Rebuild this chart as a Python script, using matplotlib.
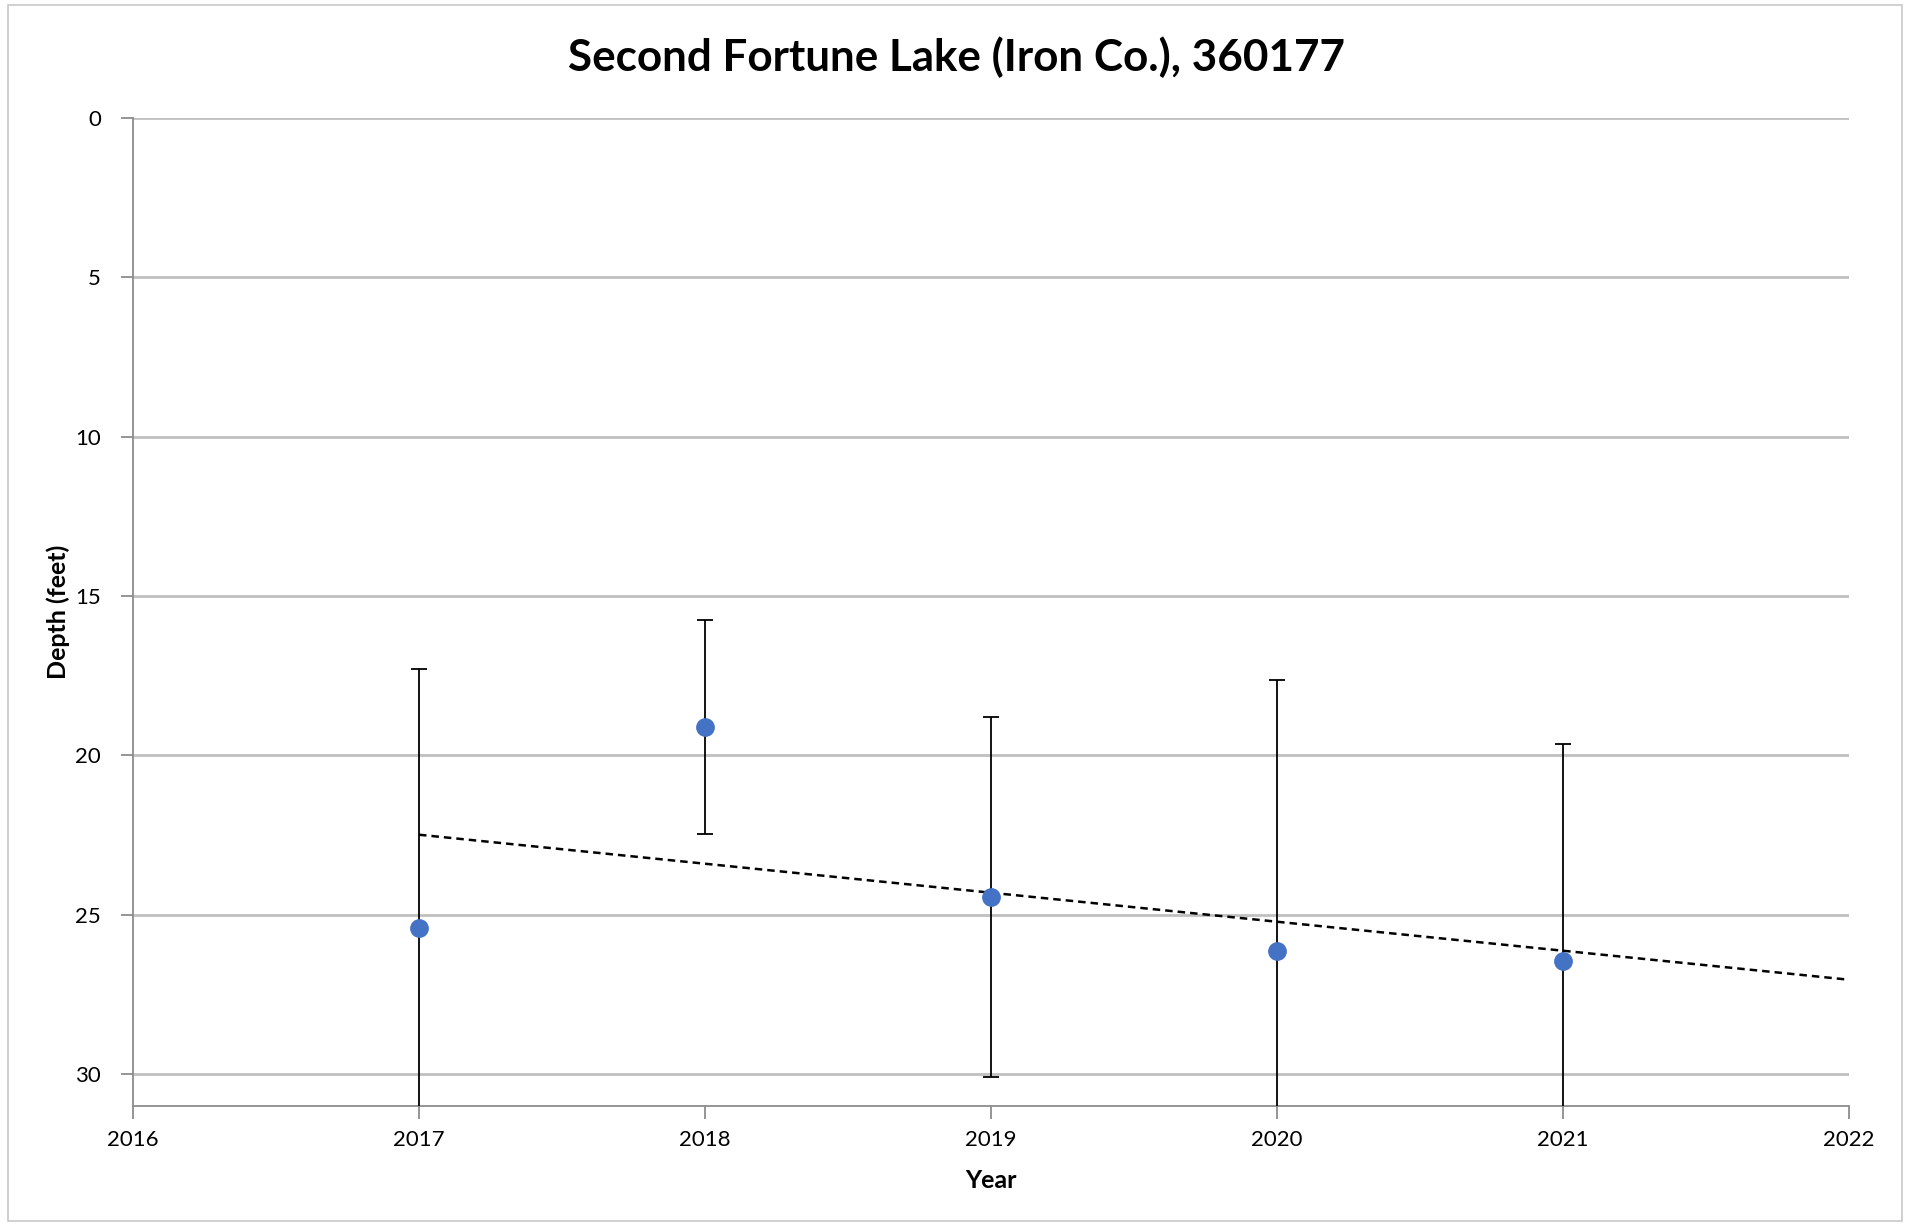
"""Secchi depth by year with std-dev error bars and linear trend."""
import matplotlib
matplotlib.use("Agg")
import matplotlib.pyplot as plt
from matplotlib.patches import Rectangle
import numpy as np

years = [2017, 2018, 2019, 2020, 2021]
depth = [25.41, 19.10, 24.45, 26.14, 26.44]
depth_err = [8.11, 3.35, 5.65, 8.50, 6.81]
trend_x = [2017, 2022]

plt.rcParams["font.family"] = ["Lato", "DejaVu Sans"]

fig = plt.figure(figsize=(19.12, 12.25), dpi=100)
ax = fig.add_axes([133 / 1912, 1 - 1106 / 1225, (1849 - 133) / 1912, (1106 - 118) / 1225])

# chart border
fig.patches.append(Rectangle((0.004, 0.003), 0.991, 0.993, transform=fig.transFigure,
                             fill=False, edgecolor="#c8c8c8", lw=1.2))

ax.errorbar(years, depth, yerr=depth_err, fmt="o", color="#4472C4", ms=12.5,
            ecolor="black", elinewidth=1.3, capsize=5.5, capthick=1.3, zorder=3)

# linear trend through observations, extended one year ahead
slope, icpt = np.polyfit(years, depth, 1)
tx = np.array(trend_x)
ax.plot(tx, slope * tx + icpt, color="black", lw=1.8, linestyle=(0, (3, 2)), zorder=2)

ax.set_xlim(2016, 2022)
ax.set_ylim(31, 0)
ax.set_yticks([0, 5, 10, 15, 20, 25, 30])
ax.set_xticks(range(2016, 2023))
ax.yaxis.grid(True, color="#c0c0c0", lw=2)
ax.set_axisbelow(True)
for s in ["top", "right"]:
    ax.spines[s].set_visible(False)
for s in ["left", "bottom"]:
    ax.spines[s].set_color("#8c8c8c")
    ax.spines[s].set_linewidth(1.3)
ax.tick_params(axis="both", colors="#8c8c8c", length=9, width=1.3, labelcolor="black",
               labelsize=16)
ax.tick_params(axis="y", pad=14)
ax.tick_params(axis="x", pad=8)

ax.set_xlabel("Year", fontsize=18, fontweight="bold", va="center")
ax.xaxis.set_label_coords(0.5, -0.075)
ax.set_ylabel("Depth (feet)", fontsize=18, fontweight="bold", va="center")
ax.yaxis.set_label_coords(-0.0437, 0.5)
fig.text(0.5, 1 - 57 / 1225, "Second Fortune Lake (Iron Co.), 360177", ha="center",
         va="center", fontsize=31.7, fontweight="bold")

fig.savefig("out.png", dpi=100)
